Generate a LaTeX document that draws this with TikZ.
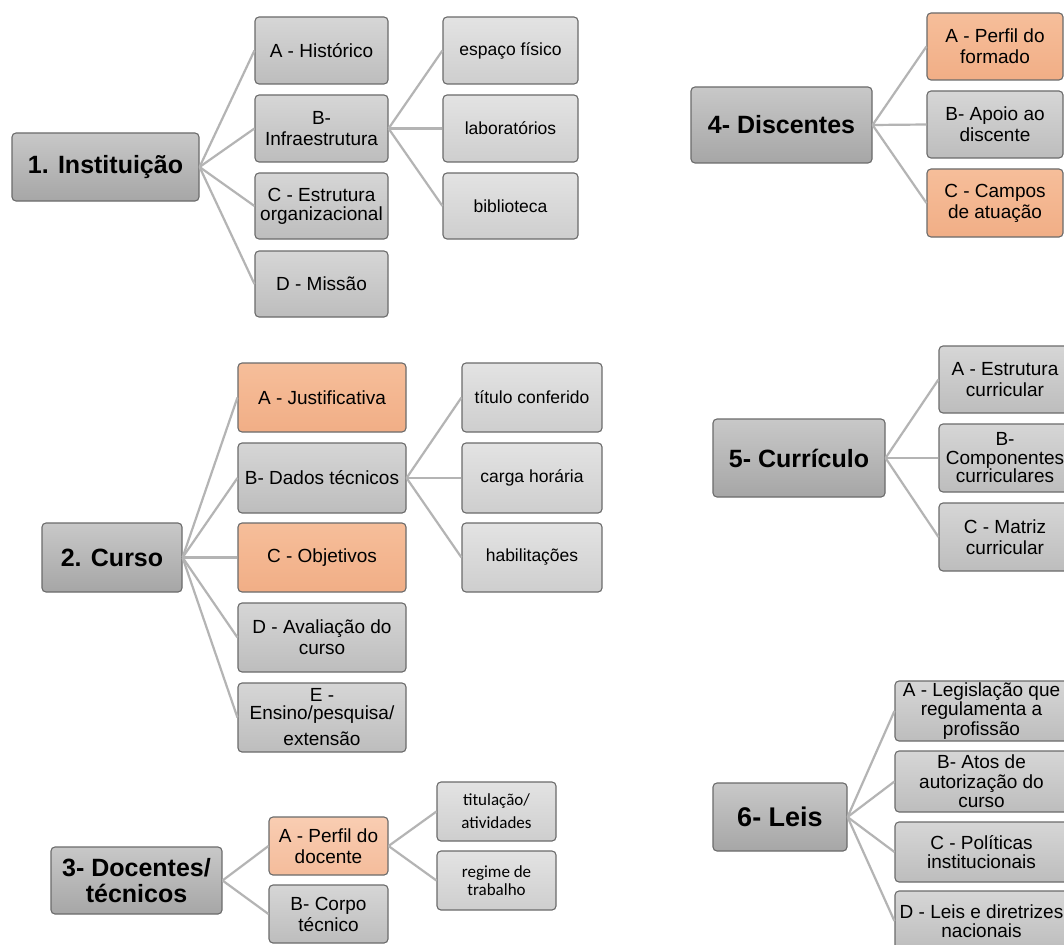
\documentclass[tikz,border=0pt]{standalone}
\usepackage{fontspec}
\setmainfont{Liberation Sans}
\newfontfamily\calfont{Carlito}
\definecolor{boxline}{HTML}{6B6B6B}
\definecolor{connc}{HTML}{B4B4B4}
\definecolor{rootT}{HTML}{C8C8C8}
\definecolor{rootB}{HTML}{A6A6A6}
\definecolor{childT}{HTML}{D6D6D6}
\definecolor{childB}{HTML}{BDBDBD}
\definecolor{leafT}{HTML}{E3E3E3}
\definecolor{leafB}{HTML}{CECECE}
\definecolor{orT}{HTML}{F6BE9A}
\definecolor{orB}{HTML}{F1AE86}
\definecolor{orlT}{HTML}{F9CDB2}
\definecolor{orlB}{HTML}{F4BC9B}
\tikzset{
  bx/.style={draw=boxline, line width=1.1pt, rounded corners=4pt, align=center, inner sep=1pt, text=black},
  rootbox/.style={bx, top color=rootT, bottom color=rootB, font=\bfseries\fontsize{25}{26}\selectfont},
  childbox/.style={bx, top color=childT, bottom color=childB, font=\fontsize{19}{21}\selectfont},
  orangebox/.style={bx, top color=orT, bottom color=orB, font=\fontsize{19}{21}\selectfont},
  orangelight/.style={bx, top color=orlT, bottom color=orlB, font=\fontsize{19}{21}\selectfont},
  leafbox/.style={bx, top color=leafT, bottom color=leafB, font=\fontsize{17.5}{20}\selectfont},
  calleaf/.style={bx, top color=leafT, bottom color=leafB, font=\calfont\fontsize{17}{21}\selectfont},
  conn/.style={draw=connc, line width=2.2pt},
}
\newcommand\mkbox[7]{%
  \node[#6, minimum width={(#4-#2)*1pt}, minimum height={(#5-#3)*1pt}] (#1) at ({(#2+#4)/2},{(#3+#5)/2}) {#7};}
\begin{document}
\begin{tikzpicture}[x=1pt,y=-1pt]
\useasboundingbox (0,0) rectangle (1064,944);
\clip (0,0) rectangle (1064,944);
\fill[white] (0,0) rectangle (1064,944);

% ---------- Group 1 ----------
\mkbox{r1}{12}{133}{199}{201}{rootbox}{1. Instituição}
\mkbox{c1a}{255}{17}{388}{84}{childbox}{A - Histórico}
\mkbox{c1b}{255}{95}{388}{162}{childbox}{B-\\Infraestrutura}
\mkbox{c1c}{255}{173}{388}{239}{childbox}{C - Estrutura\\[-2pt]organizacional}
\mkbox{c1d}{255}{251}{388}{317}{childbox}{D - Missão}
\mkbox{g1a}{443}{17}{578}{84}{leafbox}{espaço físico}
\mkbox{g1b}{443}{95}{578}{162}{leafbox}{laboratórios}
\mkbox{g1c}{443}{173}{578}{239}{leafbox}{biblioteca}
\foreach \c in {c1a,c1b,c1c,c1d}{\draw[conn] (r1.east) -- (\c.west);}
\foreach \g in {g1a,g1b,g1c}{\draw[conn] (c1b.east) -- (\g.west);}

% ---------- Group 2 ----------
\mkbox{r2}{42}{523}{182}{592}{rootbox}{2. Curso}
\mkbox{c2a}{238}{363}{406}{432}{orangebox}{A - Justificativa}
\mkbox{c2b}{238}{443}{406}{513}{childbox}{B- Dados técnicos}
\mkbox{c2c}{238}{523}{406}{592}{orangebox}{C - Objetivos}
\mkbox{c2d}{238}{603}{406}{672}{childbox}{D - Avaliação do\\curso}
\mkbox{c2e}{238}{683}{406}{752}{childbox}{E -\\[-3pt]Ensino/pesquisa/\\[5pt]extensão}
\mkbox{g2a}{462}{363}{602}{432}{leafbox}{título conferido}
\mkbox{g2b}{462}{443}{602}{513}{leafbox}{carga horária}
\mkbox{g2c}{462}{523}{602}{592}{leafbox}{habilitações}
\foreach \c in {c2a,c2b,c2c,c2d,c2e}{\draw[conn] (r2.east) -- (\c.west);}
\foreach \g in {g2a,g2b,g2c}{\draw[conn] (c2b.east) -- (\g.west);}

% ---------- Group 3 ----------
\mkbox{r3}{51}{847}{222}{914}{rootbox}{3- Docentes/\\técnicos}
\mkbox{c3a}{269}{817}{388}{875}{orangelight}{A - Perfil do\\docente}
\mkbox{c3b}{269}{885}{388}{943}{childbox}{B- Corpo\\técnico}
\mkbox{g3a}{437}{782}{556}{841}{calleaf}{titulação/\\[2pt]atividades}
\mkbox{g3b}{437}{851}{556}{910}{calleaf}{regime de\\[-3pt]trabalho}
\foreach \c in {c3a,c3b}{\draw[conn] (r3.east) -- (\c.west);}
\foreach \g in {g3a,g3b}{\draw[conn] (c3a.east) -- (\g.west);}

% ---------- Group 4 ----------
\mkbox{r4}{691}{87}{872}{163}{rootbox}{4- Discentes}
\mkbox{c4a}{927}{13}{1063}{80}{orangebox}{A - Perfil do\\formado}
\mkbox{c4b}{927}{91}{1063}{158}{childbox}{B- Apoio ao\\discente}
\mkbox{c4c}{927}{169}{1063}{237}{orangebox}{C - Campos\\de atuação}
\foreach \c in {c4a,c4b,c4c}{\draw[conn] (r4.east) -- (\c.west);}

% ---------- Group 5 ----------
\mkbox{r5}{713}{419}{885}{497}{rootbox}{5- Currículo}
\mkbox{c5a}{939}{346}{1071}{413}{childbox}{A - Estrutura\\curricular}
\mkbox{c5b}{939}{424}{1071}{492}{childbox}{B-\\[-2.5pt]Componentes\\[-2.5pt]curriculares}
\mkbox{c5c}{939}{503}{1071}{571}{childbox}{C - Matriz\\curricular}
\foreach \c in {c5a,c5b,c5c}{\draw[conn] (r5.east) -- (\c.west);}

% ---------- Group 6 ----------
\mkbox{r6}{713}{783}{847}{851}{rootbox, font=\bfseries\fontsize{27}{28}\selectfont}{6- Leis}
\mkbox{c6a}{895}{681}{1068}{741}{childbox}{A - Legislação que\\[-1.5pt]regulamenta a\\[-1.5pt]profissão}
\mkbox{c6b}{895}{751}{1068}{812}{childbox}{B- Atos de\\[-1.5pt]autorização do\\[-1.5pt]curso}
\mkbox{c6c}{895}{822}{1068}{882}{childbox}{C - Políticas\\[-1.5pt]institucionais}
\mkbox{c6d}{895}{891}{1068}{951}{childbox}{D - Leis e diretrizes\\[-1.5pt]nacionais}
\foreach \c in {c6a,c6b,c6c,c6d}{\draw[conn] (r6.east) -- (\c.west);}
\end{tikzpicture}
\end{document}
